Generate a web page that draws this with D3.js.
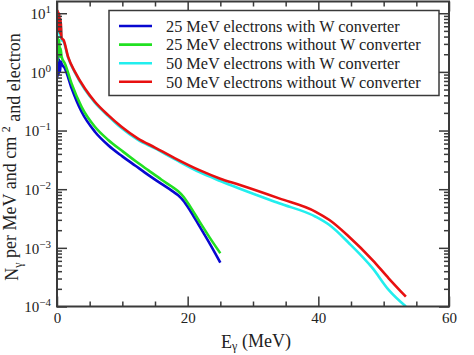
<!DOCTYPE html>
<html><head><meta charset="utf-8">
<script src="https://cdn.jsdelivr.net/npm/d3@7"></script>
<style>body{margin:0;background:#fff}svg{display:block}</style>
</head><body>
<svg id="chart" width="474" height="355"></svg>
<script>
// ---- data ----
const seriesNames = [
  "25 MeV electrons with W converter",
  "25 MeV electrons without W converter",
  "50 MeV electrons with W converter",
  "50 MeV electrons without W converter"
];
const seriesColors = ["#0808d0", "#22e022", "#22eeee", "#e81010"];

const energy25W = [0.05,0.15,0.25,0.35,0.45,0.6,0.71,1.22,2.24,3.76,5.8,7.84,10,12,14,16,17.5,18.5,19.3,20.3,21.8,23.4,25.0];
const value25W  = [0.8,2.0,0.9,1.6,1.0,1.5,1.38,1.14,0.525,0.209,0.0955,0.0562,0.0363,0.0251,0.0174,0.0123,0.00955,0.00794,0.00646,0.00447,0.00234,0.00117,0.00056];

const energy25 = [0.05,0.15,0.25,0.35,0.45,0.55,0.71,1.22,2.24,3.76,5.8,7.84,10,12,14,16,17.5,18.5,19.3,20.3,21.8,23.4,25.0];
const value25  = [1.5,4.0,2.0,3.5,1.8,2.5,1.8,1.38,0.63,0.254,0.116,0.0692,0.0447,0.0302,0.0209,0.0145,0.0112,0.00933,0.00759,0.00525,0.00282,0.00148,0.00081];

const energy50W = [0.05,0.15,0.25,0.35,0.45,0.55,0.7,1.0,1.7,2.75,4.27,5.8,7.84,9.87,12.4,15.0,18.0,21.8,25.0,27.9,34.0,39.6,41.7,44.7,48.3,50.8,53.4];
const value50W  = [5,9,4.5,8,4,7,3.5,3.3,1.75,0.97,0.5,0.3,0.177,0.11,0.069,0.0495,0.0325,0.0195,0.0138,0.0103,0.00575,0.00339,0.00245,0.0012,0.00045,0.00019,0.0001];

const energy50 = [0.05,0.15,0.25,0.35,0.45,0.55,0.7,1.0,1.7,2.75,4.27,5.8,7.84,9.87,12.4,15.0,18.0,21.8,25.0,27.9,34.0,39.6,41.7,44.7,48.3,50.8,53.4];
const value50  = [6,11,5,10,4.5,8,3.8,3.5,1.8,1.0,0.52,0.31,0.183,0.116,0.073,0.0513,0.0339,0.0211,0.0151,0.0119,0.00697,0.00412,0.00298,0.00155,0.00062,0.0003,0.000147];

const xMajorTicks = [0, 20, 40, 60];
const xMinorTicks = [5, 10, 15, 25, 30, 35, 45, 50, 55];
const yDecadeExponents = [-4, -3, -2, -1, 0, 1];

const xTitle = "E";
const xTitleSub = "γ";
const xTitleRest = " (MeV)";

// ---- layout ----
const svg = d3.select("#chart");
const L = 57, R = 449, T = 1.5, B = 306.5;
const x = d3.scaleLinear().domain([0, 60]).range([L, R]);
const y = d3.scaleLog().domain([1e-4, Math.pow(10, 1.2)]).range([B, T]);
const axisColor = "#3a3a3a";
const serif = "'Liberation Serif','Times New Roman',serif";

svg.append("clipPath").attr("id", "clip").append("rect")
  .attr("x", L).attr("y", T).attr("width", R - L).attr("height", B - T);

const series = [
  {e: energy25W, v: value25W},
  {e: energy25,  v: value25},
  {e: energy50W, v: value50W},
  {e: energy50,  v: value50}
];
const line = d3.line().x(d => x(d[0])).y(d => y(d[1])).curve(d3.curveMonotoneX);
const gLines = svg.append("g").attr("clip-path", "url(#clip)");
series.forEach((s, i) => {
  gLines.append("path")
    .datum(s.e.map((e, k) => [e, s.v[k]]))
    .attr("d", line)
    .attr("fill", "none")
    .attr("stroke", seriesColors[i])
    .attr("stroke-width", 2.6)
    .attr("stroke-linejoin", "round");
});

const yMinor = [];
yDecadeExponents.forEach(p => { for (let m = 2; m <= 9; m++) { const v = m * Math.pow(10, p); if (v <= y.domain()[1]) yMinor.push(v); } });
const yMajor = yDecadeExponents.map(p => Math.pow(10, p));

function styleAxis(g) {
  g.select(".domain").remove();
  g.selectAll("line").attr("stroke", axisColor).attr("stroke-width", 1.5);
}

svg.append("g").attr("transform", `translate(0,${B})`)
  .call(d3.axisBottom(x).tickValues(xMajorTicks).tickSize(-10).tickPadding(6).tickFormat(d3.format("d")))
  .call(styleAxis)
  .call(g => g.selectAll("text").attr("font-family", serif).attr("font-size", 15).attr("fill", "#222").attr("dy", "0.71em"));
svg.append("g").attr("transform", `translate(0,${B})`)
  .call(d3.axisBottom(x).tickValues(xMinorTicks).tickSize(-5).tickFormat(""))
  .call(styleAxis);
svg.append("g").attr("transform", `translate(0,${T})`)
  .call(d3.axisTop(x).tickValues(xMajorTicks).tickSize(-10).tickFormat(""))
  .call(styleAxis);
svg.append("g").attr("transform", `translate(0,${T})`)
  .call(d3.axisTop(x).tickValues(xMinorTicks).tickSize(-5).tickFormat(""))
  .call(styleAxis);

const gl = svg.append("g").attr("transform", `translate(${L},0)`)
  .call(d3.axisLeft(y).tickValues(yMajor).tickSize(-10).tickPadding(6).tickFormat(""))
  .call(styleAxis);
gl.selectAll(".tick").each(function(d) {
  const p = Math.round(Math.log10(d));
  const t = d3.select(this).select("text")
    .attr("x", -6).attr("dy", "0.36em")
    .attr("font-family", serif).attr("font-size", 15).attr("fill", "#222")
    .attr("text-anchor", "end");
  t.text(null);
  t.append("tspan").text("10");
  t.append("tspan").attr("font-size", 11).attr("dy", "-0.55em").text(p < 0 ? "\u2212" + (-p) : String(p));
});
svg.append("g").attr("transform", `translate(${L},0)`)
  .call(d3.axisLeft(y).tickValues(yMinor).tickSize(-5).tickFormat(""))
  .call(styleAxis);
svg.append("g").attr("transform", `translate(${R},0)`)
  .call(d3.axisRight(y).tickValues(yMajor).tickSize(-10).tickFormat(""))
  .call(styleAxis);
svg.append("g").attr("transform", `translate(${R},0)`)
  .call(d3.axisRight(y).tickValues(yMinor).tickSize(-5).tickFormat(""))
  .call(styleAxis);

svg.append("rect").attr("x", L).attr("y", T).attr("width", R - L).attr("height", B - T)
  .attr("fill", "none").attr("stroke", axisColor).attr("stroke-width", 2);

const lg = svg.append("g");
lg.append("rect").attr("x", 109).attr("y", 10.5).attr("width", 330).attr("height", 85)
  .attr("fill", "#fff").attr("stroke", axisColor).attr("stroke-width", 1.5);
seriesNames.forEach((name, i) => {
  const cy = 26 + i * 18.6;
  lg.append("line").attr("x1", 119).attr("x2", 152).attr("y1", cy).attr("y2", cy)
    .attr("stroke", seriesColors[i]).attr("stroke-width", 2.6);
  lg.append("text").attr("x", 166).attr("y", cy).attr("dy", "0.35em")
    .attr("font-family", serif).attr("font-size", 16.3).attr("fill", "#222").text(name);
});

const xt = svg.append("text").attr("x", 256).attr("y", 348).attr("text-anchor", "middle")
  .attr("font-family", serif).attr("font-size", 18).attr("fill", "#222");
xt.append("tspan").text(xTitle);
xt.append("tspan").attr("font-size", 12).attr("dy", "0.2em").text(xTitleSub);
xt.append("tspan").attr("dy", "-0.2em").text(xTitleRest);

const yt = svg.append("text").attr("transform", "translate(18,157) rotate(-90)")
  .attr("text-anchor", "middle").attr("font-family", serif).attr("font-size", 18).attr("fill", "#222");
yt.append("tspan").text("N");
yt.append("tspan").attr("font-size", 12).attr("dy", "0.3em").text("γ");
yt.append("tspan").attr("dy", "-0.3em").text(" per MeV and cm ");
yt.append("tspan").attr("font-size", 12).attr("dy", "-0.55em").text("2");
yt.append("tspan").attr("dy", "0.55em").text(" and electron");
</script>
</body></html>
